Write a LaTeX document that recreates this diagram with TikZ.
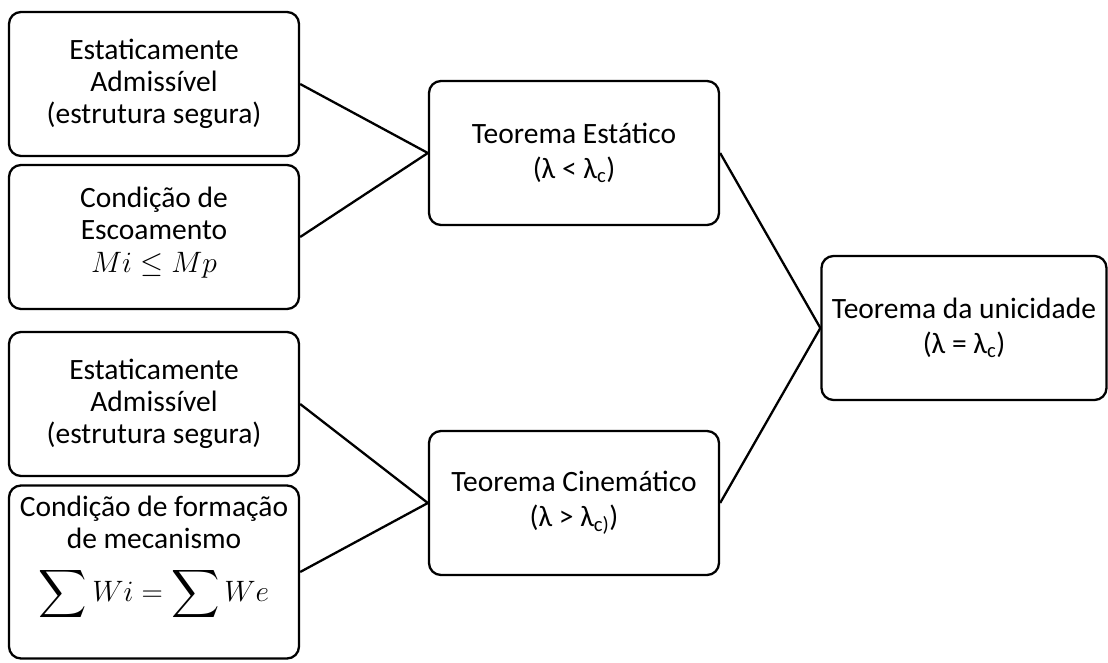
\RequirePackage{fix-cm}
\documentclass[tikz,border=0pt]{standalone}
\usepackage{amsmath}
\usepackage{graphicx}
\usepackage{fontspec}
\setmainfont{Carlito}
\usetikzlibrary{positioning}

\newcommand{\bigsum}{\mathop{\vcenter{\hbox{\scalebox{1.35}{$\displaystyle\sum$}}}}}

\begin{document}
\begin{tikzpicture}[x=1pt, y=-1pt, line width=2.3pt, font=\fontsize{29.5}{32}\selectfont,
    block/.style={draw, rounded corners=12pt, align=center, minimum width=290pt, minimum height=144pt, inner sep=1pt}]
    \useasboundingbox (0,0) rectangle (1108,662);

    \node[block]                       (estadm1)  at (154,84)   {Estaticamente\\ Admissível\\ (estrutura segura)};
    \node[block]                       (escoam)   at (154,237)  {Condição de\\ Escoamento\\[1pt] $Mi \leq Mp$\\[-18pt]};
    \node[block]                       (estadm2)  at (154,404)  {Estaticamente\\ Admissível\\ (estrutura segura)};
    \node[block, minimum height=173pt] (mecan)    at (154,572)  {Condição de formação\\ de mecanismo\\[18pt] $\bigsum Wi = \bigsum We$\\[15pt]};
    \node[block]                       (estatico) at (574,153)  {Teorema Estático\\[3pt] (λ < λ\textsubscript{c})};
    \node[block]                       (cinemat)  at (574,503)  {Teorema Cinemático\\[3pt] (λ > λ\textsubscript{c)})};
    \node[block, minimum width=285pt]  (unicid)   at (964,328)  {Teorema da unicidade\\[3pt] (λ = λ\textsubscript{c})};

    \path (estadm1.east)  edge (estatico.west)
          (escoam.east)   edge (estatico.west)
          (estadm2.east)  edge (cinemat.west)
          (mecan.east)    edge (cinemat.west)
          (estatico.east) edge (unicid.west)
          (cinemat.east)  edge (unicid.west);
\end{tikzpicture}
\end{document}
